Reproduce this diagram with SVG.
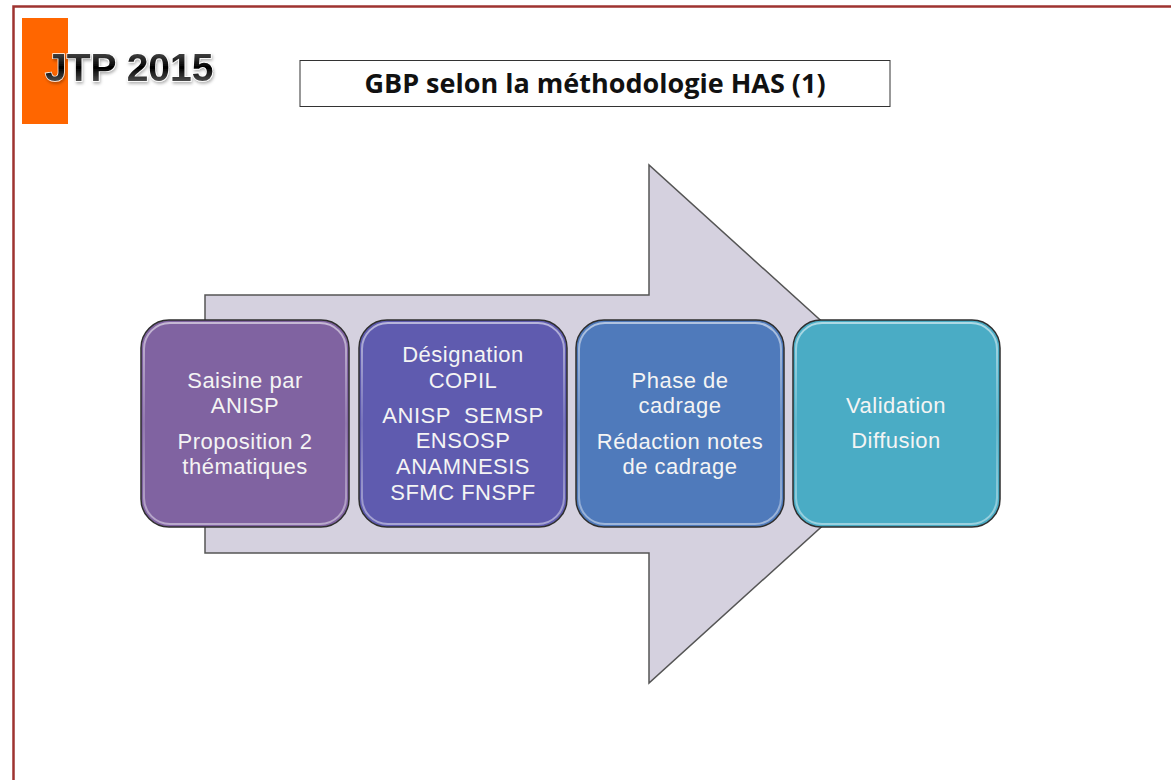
<svg xmlns="http://www.w3.org/2000/svg" width="1171" height="780" viewBox="0 0 1171 780">
  <style>
    .frame { fill: none; stroke: #9E3330; stroke-width: 2.5; }
    .step { stroke: #2E2E2E; stroke-width: 1.5; }
    .gloss { fill: none; stroke: url(#rim); stroke-width: 2; }
    .label { font-family: "Liberation Sans", Arial, sans-serif; font-size: 22px; letter-spacing: 0.5px; fill: #F4F4F4; text-anchor: middle; }
    .title { font-family: "Open Sans", "Liberation Sans", sans-serif; font-size: 27px; font-weight: bold; fill: #111; text-anchor: middle; }
    .logo { font-family: "Liberation Sans", Arial, sans-serif; font-size: 39px; font-weight: bold; fill: url(#logoFill); stroke: #FFFFFF; stroke-width: 1.4; paint-order: stroke; }
  </style>
  <defs>
    <linearGradient id="rim" x1="0" y1="0" x2="0" y2="1">
      <stop offset="0" stop-color="#FFFFFF" stop-opacity="0.55"/>
      <stop offset="0.5" stop-color="#FFFFFF" stop-opacity="0.15"/>
      <stop offset="1" stop-color="#FFFFFF" stop-opacity="0.45"/>
    </linearGradient>
    <linearGradient id="logoFill" x1="0" y1="0" x2="0" y2="1">
      <stop offset="0" stop-color="#666666"/>
      <stop offset="0.5" stop-color="#000000"/>
      <stop offset="1" stop-color="#777777"/>
    </linearGradient>
    <filter id="soft" x="-10%" y="-10%" width="120%" height="130%">
      <feDropShadow dx="1" dy="2" stdDeviation="1.5" flood-color="#000" flood-opacity="0.3"/>
    </filter>
  </defs>

  <rect width="1171" height="780" fill="#FFFFFF"/>
  <!-- page frame -->
  <path class="frame" d="M13.5 780 V6.5 H1171"/>

  <!-- header -->
  <g id="logo">
    <rect x="22" y="18" width="46" height="106" fill="#FF6600"/>
    <text class="logo" x="45" y="81" filter="url(#soft)">JTP 2015</text>
  </g>
  <g id="title">
    <rect x="300" y="60.5" width="590" height="46" fill="#FFFFFF" stroke="#333" stroke-width="1"/>
    <text class="title" x="595" y="93">GBP selon la méthodologie HAS (1)</text>
  </g>

  <!-- background arrow -->
  <g id="arrow">
    <polygon points="205,295 649,295 649,165 935,424 649,683 649,553 205,553" fill="#D5D1DF" stroke="#555" stroke-width="1.5"/>
  </g>

  <!-- process steps -->
  <g id="step1">
    <rect class="step" x="141" y="320" width="208" height="207" rx="28" fill="#8063A1"/>
    <rect class="gloss" x="144" y="323" width="202" height="201" rx="26"/>
    <text class="label" x="245" y="388">Saisine par</text>
    <text class="label" x="245" y="413">ANISP</text>
    <text class="label" x="245" y="449">Proposition 2</text>
    <text class="label" x="245" y="474">thématiques</text>
  </g>
  <g id="step2">
    <rect class="step" x="359" y="320" width="208" height="207" rx="28" fill="#5F5BAF"/>
    <rect class="gloss" x="362" y="323" width="202" height="201" rx="26"/>
    <text class="label" x="463" y="362">Désignation</text>
    <text class="label" x="463" y="388">COPIL</text>
    <text class="label" x="463" y="423">ANISP&#160; SEMSP</text>
    <text class="label" x="463" y="448">ENSOSP</text>
    <text class="label" x="463" y="474">ANAMNESIS</text>
    <text class="label" x="463" y="500">SFMC FNSPF</text>
  </g>
  <g id="step3">
    <rect class="step" x="576" y="320" width="208" height="207" rx="28" fill="#4F7ABB"/>
    <rect class="gloss" x="579" y="323" width="202" height="201" rx="26"/>
    <text class="label" x="680" y="388">Phase de</text>
    <text class="label" x="680" y="413">cadrage</text>
    <text class="label" x="680" y="449">Rédaction notes</text>
    <text class="label" x="680" y="474">de cadrage</text>
  </g>
  <g id="step4">
    <rect class="step" x="793" y="320" width="207" height="207" rx="28" fill="#4AACC5"/>
    <rect class="gloss" x="796" y="323" width="201" height="201" rx="26"/>
    <text class="label" x="896" y="413">Validation</text>
    <text class="label" x="896" y="448">Diffusion</text>
  </g>
</svg>
